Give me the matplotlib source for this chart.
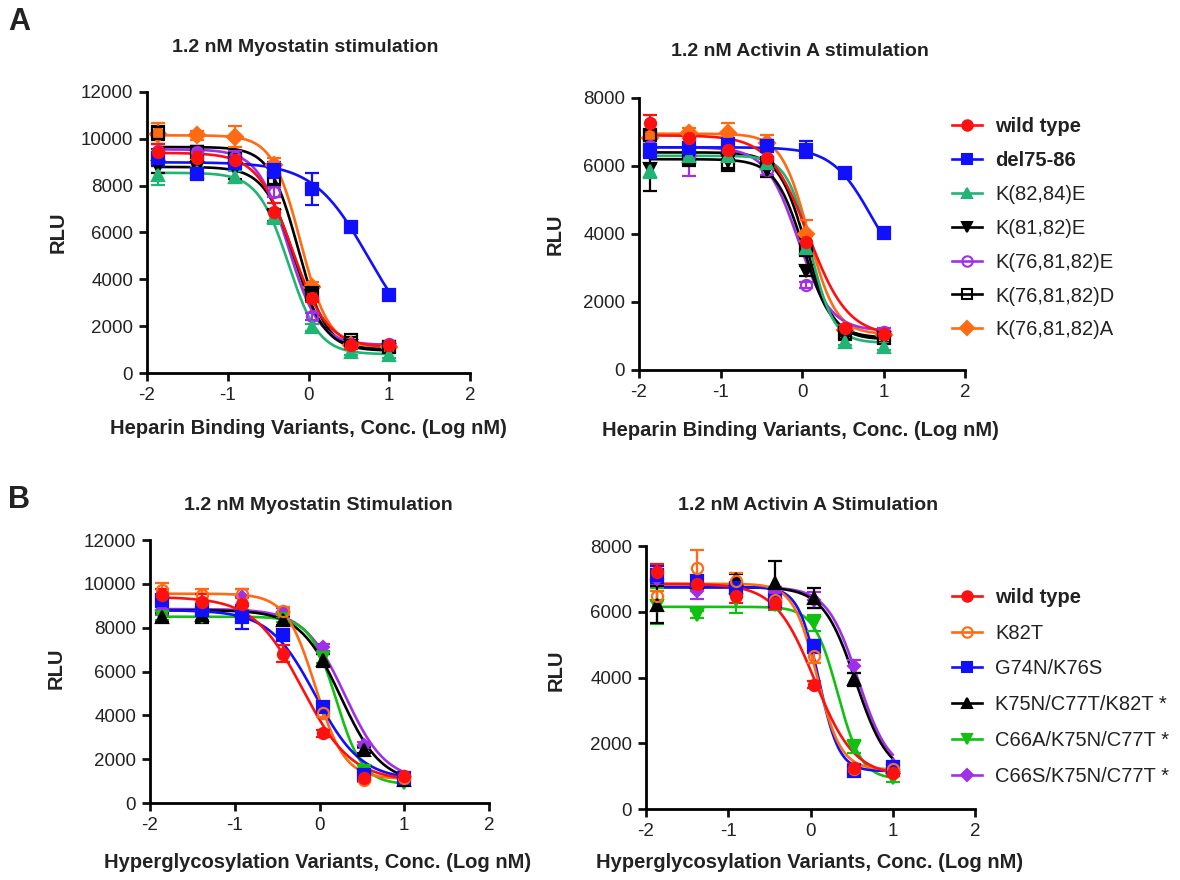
import numpy as np
import matplotlib
matplotlib.use("Agg")
import matplotlib.pyplot as plt
from matplotlib.lines import Line2D

plt.rcParams['font.family'] = ['Liberation Sans', 'DejaVu Sans']
plt.rcParams['axes.unicode_minus'] = False

# ---------------- data ----------------
log_conc = [-1.863, -1.386, -0.909, -0.431, 0.046, 0.523, 1.0]

heparin_labels = ["wild type", "del75-86", "K(82,84)E", "K(81,82)E",
                  "K(76,81,82)E", "K(76,81,82)D", "K(76,81,82)A"]
glyco_labels = ["wild type", "K82T", "G74N/K76S", "K75N/C77T/K82T *",
                "C66A/K75N/C77T *", "C66S/K75N/C77T *"]

# Panel A left: Myostatin, heparin binding variants (RLU)
A_myo_rlu = [
    [9450, 9200, 9100, 6880, 3220, 1180, 1180],
    [9200, 8480, 8970, 8680, 7870, 6230, 3320],
    [8440, 8600, 8370, 6660, 1960, 900, 750],
    [8800, 8750, 8700, 6700, 3400, 1150, 1000],
    [9500, 9440, 9220, 7730, 2420, 1250, 1250],
    [10250, 9440, 9150, 8300, 3390, 1400, 1100],
    [10220, 10150, 10080, 8870, 3670, 1180, 1100],
]
A_myo_err = [
    [350, 250, 300, 400, 200, 150, 150],
    [350, 150, 200, 350, 680, 200, 150],
    [420, 200, 250, 300, 150, 120, 120],
    [250, 300, 400, 300, 200, 100, 100],
    [300, 250, 250, 200, 150, 100, 100],
    [300, 250, 350, 250, 200, 150, 100],
    [450, 200, 450, 300, 200, 100, 100],
]
# fitted 4PL: top, bottom, logIC50, hill
A_myo_fit = [
    [9400, 1100, -0.20, 2.0],
    [9000, 1000, 0.73, 1.3],
    [8550, 800, -0.25, 2.3],
    [8800, 950, -0.17, 2.3],
    [9550, 1200, -0.25, 2.3],
    [9650, 1000, -0.13, 2.5],
    [10150, 1100, -0.10, 2.5],
]

# Panel A right: Activin A, heparin binding variants
A_act_rlu = [
    [7260, 6820, 6480, 6230, 3750, 1230, 1060],
    [6480, 6530, 6630, 6600, 6480, 5790, 4040],
    [5850, 6300, 6300, 6100, 3600, 830, 690],
    [5900, 6200, 6150, 5890, 2900, 980, 930],
    [6600, 6300, 6450, 5890, 2500, 1180, 1130],
    [6920, 6230, 6040, 6080, 3530, 1080, 930],
    [6820, 6970, 6970, 6670, 4000, 1180, 1030],
]
A_act_err = [
    [250, 150, 150, 250, 200, 100, 100],
    [250, 150, 200, 150, 250, 100, 150],
    [200, 150, 150, 150, 200, 100, 100],
    [650, 200, 200, 200, 150, 100, 100],
    [150, 600, 150, 150, 100, 100, 100],
    [150, 150, 150, 150, 150, 100, 100],
    [200, 150, 300, 250, 400, 100, 100],
]
A_act_fit = [
    [6900, 1000, 0.08, 1.8],
    [6550, 2500, 0.85, 1.8],
    [6300, 800, 0.10, 3.0],
    [6200, 950, 0.02, 2.5],
    [6550, 1150, -0.05, 2.2],
    [6400, 900, 0.05, 2.6],
    [6950, 1050, 0.08, 2.6],
]

# Panel B left: Myostatin, hyperglycosylation variants
B_myo_rlu = [
    [9470, 9170, 9090, 6820, 3180, 1140, 1210],
    [9700, 9470, 9550, 8760, 4090, 1060, 1140],
    [9240, 8790, 8480, 7650, 4390, 1290, 1140],
    [8480, 8600, 8800, 8330, 6510, 2420, 1060],
    [8500, 8500, 8500, 8400, 6600, 1440, 910],
    [8800, 8700, 9400, 8700, 7100, 2650, 1200],
]
B_myo_err = [
    [300, 350, 300, 400, 150, 150, 150],
    [350, 300, 200, 200, 150, 100, 100],
    [300, 200, 550, 200, 200, 100, 100],
    [200, 400, 200, 200, 300, 150, 100],
    [150, 150, 150, 150, 200, 100, 100],
    [200, 450, 350, 200, 150, 150, 100],
]
B_myo_fit = [
    [9400, 1000, -0.20, 1.5],
    [9550, 1100, -0.05, 2.5],
    [8800, 1050, -0.05, 1.6],
    [8800, 900, 0.25, 1.8],
    [8500, 850, 0.20, 2.8],
    [8850, 1000, 0.30, 1.8],
]

# Panel B right: Activin A, hyperglycosylation variants
B_act_rlu = [
    [7200, 6830, 6470, 6270, 3780, 1260, 1100],
    [6470, 7330, 6930, 6370, 4640, 1230, 1230],
    [7130, 6930, 6720, 6320, 4950, 1160, 1280],
    [6220, 6900, 7000, 6880, 6420, 3950, 1280],
    [6170, 5910, 6370, 6200, 5660, 1890, 930],
    [7000, 6630, 6700, 6600, 6350, 4340, 1330],
]
B_act_err = [
    [250, 150, 200, 200, 100, 100, 100],
    [150, 550, 250, 250, 200, 100, 100],
    [250, 150, 150, 250, 200, 100, 100],
    [550, 150, 150, 650, 300, 200, 100],
    [550, 100, 400, 150, 250, 200, 100],
    [200, 250, 150, 150, 250, 200, 100],
]
B_act_fit = [
    [6850, 1000, 0.05, 1.8],
    [6850, 1200, 0.08, 3.0],
    [6750, 1150, 0.10, 3.5],
    [6750, 1000, 0.55, 2.2],
    [6150, 900, 0.33, 3.0],
    [6750, 1100, 0.58, 2.3],
]

# ---------------- styles ----------------
hep_colors = ['#ff1010', '#1010ff', '#20b475', '#000000', '#a030e8', '#000000', '#ff6a12']
hep_markers = ['o', 's', '^', 'v', 'o', 's', 'D']
hep_filled = [True, True, True, True, False, False, True]
hep_msize = [8, 8, 8, 8, 8, 8, 8]
hep_bold = [True, True, False, False, False, False, False]

gly_colors = ['#ff1010', '#ff6a12', '#1010ff', '#000000', '#12c012', '#a030e8']
gly_markers = ['o', 'o', 's', '^', 'v', 'D']
gly_filled = [True, False, True, True, True, True]
gly_msize = [8, 8, 8, 8, 8, 6.5]
gly_bold = [True, False, False, False, False, False]

W, H = 1180, 880
fig = plt.figure(figsize=(W / 100, H / 100), dpi=100)


def fx(x):
    return x / W


def fy(y):
    return 1 - y / H


def add_axes(x0, x1, ytop, ybot):
    return fig.add_axes([fx(x0), fy(ybot), fx(x1) - fx(x0), fy(ytop) - fy(ybot)])


def four_pl(x, top, bottom, logic50, hill):
    return bottom + (top - bottom) / (1 + 10 ** (hill * (x - logic50)))


def draw_panel(ax, rlu, err, fit, colors, markers, filled, msize, ymax):
    xs = np.array(log_conc)
    xc = np.linspace(xs.min(), xs.max(), 300)
    n = len(rlu)
    for i in reversed(range(n)):
        c = colors[i]
        top, bottom, lic, hill = fit[i]
        ax.plot(xc, four_pl(xc, top, bottom, lic, hill), color=c, lw=1.9,
                zorder=2, clip_on=False)
        ax.errorbar(xs, rlu[i], yerr=err[i], fmt='none', ecolor=c, elinewidth=1.6,
                    capsize=5, capthick=1.6, zorder=3, clip_on=False)
        ax.plot(xs, rlu[i], linestyle='none', marker=markers[i], markersize=msize[i],
                color=c, markerfacecolor=(c if filled[i] else 'none'),
                markeredgewidth=1.6, zorder=4, clip_on=False)
    ax.set_xlim(-2, 2)
    ax.set_ylim(0, ymax)
    ax.set_xticks([-2, -1, 0, 1, 2])
    ax.set_yticks(np.arange(0, ymax + 1, 2000))
    for s in ['top', 'right']:
        ax.spines[s].set_visible(False)
    for s in ['left', 'bottom']:
        ax.spines[s].set_linewidth(2)
    ax.tick_params(direction='out', length=6, width=2, labelsize=13.5, pad=4,
                   colors='#111111', labelcolor='#222222')


def add_legend(labels, colors, markers, filled, msize, bold, x, y, spacing):
    handles = []
    for i in range(len(labels)):
        c = colors[i]
        handles.append(Line2D([0], [0], color=c, lw=1.9, marker=markers[i],
                              markersize=msize[i] - 0.5,
                              markerfacecolor=(c if filled[i] else 'none'),
                              markeredgewidth=1.5))
    leg = fig.legend(handles, labels, loc='upper left', bbox_to_anchor=(fx(x), fy(y)),
                     frameon=False, borderpad=0, borderaxespad=0, fontsize=14.5,
                     handlelength=1.5, handletextpad=0.65, labelspacing=spacing)
    for t, b in zip(leg.get_texts(), bold):
        t.set_color('#222222')
        if b:
            t.set_fontweight('bold')


axA1 = add_axes(147, 470, 92, 373)
axA2 = add_axes(639, 965, 98, 370)
axB1 = add_axes(150, 489, 540, 803)
axB2 = add_axes(646, 975, 546, 809)

draw_panel(axA1, A_myo_rlu, A_myo_err, A_myo_fit, hep_colors, hep_markers, hep_filled, hep_msize, 12000)
draw_panel(axA2, A_act_rlu, A_act_err, A_act_fit, hep_colors, hep_markers, hep_filled, hep_msize, 8000)
draw_panel(axB1, B_myo_rlu, B_myo_err, B_myo_fit, gly_colors, gly_markers, gly_filled, gly_msize, 12000)
draw_panel(axB2, B_act_rlu, B_act_err, B_act_fit, gly_colors, gly_markers, gly_filled, gly_msize, 8000)

add_legend(heparin_labels, hep_colors, hep_markers, hep_filled, hep_msize, hep_bold, 952, 117, 0.74)
add_legend(glyco_labels, gly_colors, gly_markers, gly_filled, gly_msize, gly_bold, 952, 588, 0.83)

# titles, labels
tsize = 14
tc = '#222222'
fig.text(fx(305), fy(47), "1.2 nM Myostatin stimulation", ha='center', va='center',
         fontsize=tsize, fontweight='bold', color=tc)
fig.text(fx(800), fy(52), "1.2 nM Activin A stimulation", ha='center', va='center',
         fontsize=tsize, fontweight='bold', color=tc)
fig.text(fx(318), fy(505), "1.2 nM Myostatin Stimulation", ha='center', va='center',
         fontsize=tsize, fontweight='bold', color=tc)
fig.text(fx(808), fy(505), "1.2 nM Activin A Stimulation", ha='center', va='center',
         fontsize=tsize, fontweight='bold', color=tc)

xsize = 14.5
fig.text(fx(308), fy(428), "Heparin Binding Variants, Conc. (Log nM)", ha='center', va='center',
         fontsize=xsize, fontweight='bold', color=tc)
fig.text(fx(800), fy(430), "Heparin Binding Variants, Conc. (Log nM)", ha='center', va='center',
         fontsize=xsize, fontweight='bold', color=tc)
fig.text(fx(318), fy(862), "Hyperglycosylation Variants, Conc. (Log nM)", ha='center', va='center',
         fontsize=xsize, fontweight='bold', color=tc)
fig.text(fx(810), fy(862), "Hyperglycosylation Variants, Conc. (Log nM)", ha='center', va='center',
         fontsize=xsize, fontweight='bold', color=tc)

for (x, y) in [(58, 232), (555, 234), (56, 668), (556, 670)]:
    fig.text(fx(x), fy(y), "RLU", ha='center', va='center', rotation=90, fontsize=14.5,
             fontweight='bold', color=tc)

fig.text(fx(8), fy(22), "A", ha='left', va='center', fontsize=22, fontweight='bold', color=tc)
fig.text(fx(8), fy(500), "B", ha='left', va='center', fontsize=22, fontweight='bold', color=tc)

fig.savefig("out.png", dpi=100)
